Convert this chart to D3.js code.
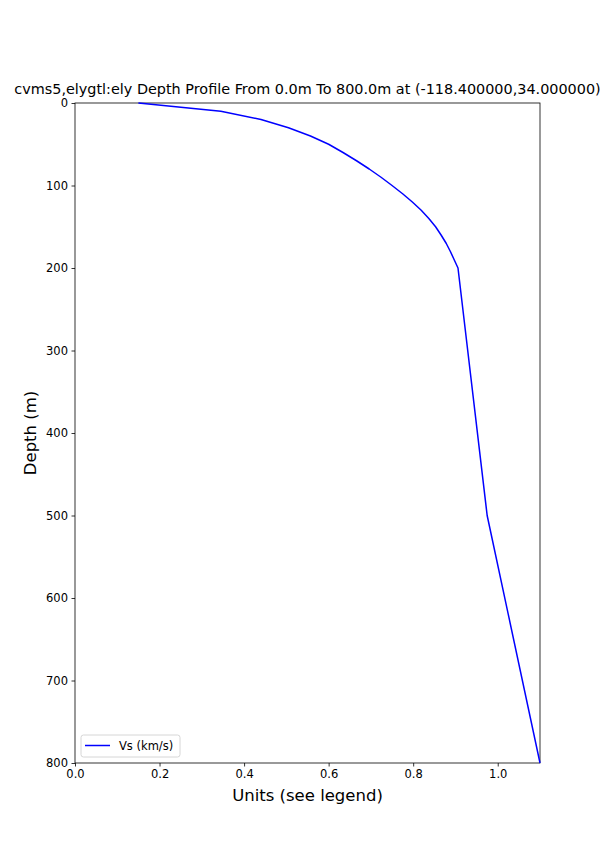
<!DOCTYPE html>
<html>
<head>
<meta charset="utf-8">
<script src="https://cdn.jsdelivr.net/npm/d3@7"></script>
<style>
  body { margin: 0; background: #fff; }
  text { font-family: "DejaVu Sans", sans-serif; }
</style>
</head>
<body>
<svg id="chart" width="600" height="857"></svg>
<script>
// Data
const depths = [0, 10, 20, 30, 40, 50, 60, 70, 80, 90, 100, 110, 120, 130, 140, 150, 160, 170, 180, 190, 200, 500, 800];
const vsValues = [0.150, 0.345, 0.440, 0.505, 0.557, 0.600, 0.634, 0.666, 0.696, 0.724, 0.750, 0.775, 0.798, 0.819, 0.837, 0.853, 0.866, 0.878, 0.888, 0.897, 0.906, 0.975, 1.100];
const xTicks = [0.0, 0.2, 0.4, 0.6, 0.8, 1.0];
const yTicks = [0, 100, 200, 300, 400, 500, 600, 700, 800];
const titleText = "cvms5,elygtl:ely Depth Profile From 0.0m To 800.0m at (-118.400000,34.000000)";
const seriesLabel = "Vs (km/s)";

(function () {
const svg = d3.select("#chart");
const pL = 75, pR = 540, pT = 103, pB = 763;

const x = d3.scaleLinear().domain([0, 1.1]).range([pL, pR]);
const y = d3.scaleLinear().domain([0, 800]).range([pT, pB]);

// Axes
const xAxis = d3.axisBottom(x).tickValues(xTicks).tickFormat(d3.format(".1f")).tickSize(3.5).tickPadding(3.5);
const yAxis = d3.axisLeft(y).tickValues(yTicks).tickFormat(d3.format("d")).tickSize(3.5).tickPadding(3.5);

const gx = svg.append("g").attr("transform", `translate(0,${pB})`).call(xAxis);
const gy = svg.append("g").attr("transform", `translate(${pL},0)`).call(yAxis);
[gx, gy].forEach(g => {
  g.select(".domain").remove();
  g.selectAll(".tick line").attr("stroke", "#000").attr("stroke-width", 0.8);
  g.selectAll(".tick text").attr("font-size", "11.5px").attr("fill", "#000").attr("font-family", "DejaVu Sans, sans-serif");
});

// Frame
svg.append("rect")
  .attr("x", pL).attr("y", pT)
  .attr("width", pR - pL).attr("height", pB - pT)
  .attr("fill", "none").attr("stroke", "#000").attr("stroke-width", 0.8);

// Line
svg.append("path")
  .datum(depths)
  .attr("d", d3.line().x((d, i) => x(vsValues[i])).y(d => y(d)))
  .attr("fill", "none")
  .attr("stroke", "#0000ff")
  .attr("stroke-width", 1.5)
  .attr("stroke-linejoin", "round");

// Title
svg.append("text")
  .attr("x", (pL + pR) / 2).attr("y", 94)
  .attr("text-anchor", "middle")
  .attr("font-size", "14.4px")
  .attr("fill", "#000")
  .text(titleText);

// Axis labels
svg.append("text")
  .attr("x", (pL + pR) / 2).attr("y", 801)
  .attr("text-anchor", "middle")
  .attr("font-size", "16.5px")
  .attr("fill", "#000")
  .text("Units (see legend)");

svg.append("text")
  .attr("transform", `translate(36,${(pT + pB) / 2}) rotate(-90)`)
  .attr("text-anchor", "middle")
  .attr("font-size", "16.5px")
  .attr("fill", "#000")
  .text("Depth (m)");

// Legend
const lg = svg.append("g");
lg.append("rect")
  .attr("x", 81).attr("y", 735).attr("width", 99).attr("height", 22)
  .attr("rx", 2.5).attr("fill", "#fff").attr("fill-opacity", 0.8)
  .attr("stroke", "#cccccc").attr("stroke-width", 0.8);
lg.append("line")
  .attr("x1", 85).attr("x2", 110).attr("y1", 745.5).attr("y2", 745.5)
  .attr("stroke", "#0000ff").attr("stroke-width", 1.5);
lg.append("text")
  .attr("x", 119).attr("y", 749.5)
  .attr("font-size", "11.5px").attr("fill", "#000")
  .text(seriesLabel);
})();
</script>
</body>
</html>
